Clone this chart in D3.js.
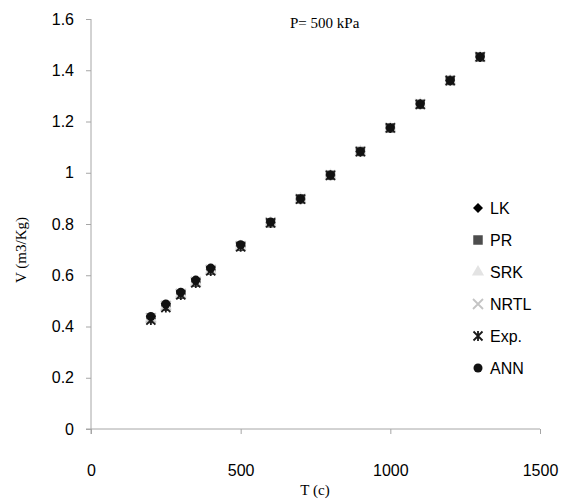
<!DOCTYPE html>
<html lang="en">
<head>
<meta charset="UTF-8">
<title>V vs T, P = 500 kPa</title>
<script src="https://d3js.org/d3.v7.min.js"></script>
<style>
  body { margin: 0; background: #fff; }
  text { fill: #000; }
</style>
</head>
<body>
<div id="chart"></div>
<script>
// temperatures (C)
const temps = [200, 250, 300, 350, 400, 500, 600, 700, 800, 900, 1000, 1100, 1200, 1300];
// specific volume (m3/kg) per method
const lk   = [0.432, 0.480, 0.527, 0.574, 0.621, 0.714, 0.806, 0.898, 0.991, 1.083, 1.175, 1.268, 1.360, 1.452];
const pr   = [0.431, 0.479, 0.526, 0.573, 0.620, 0.713, 0.805, 0.898, 0.990, 1.083, 1.175, 1.267, 1.360, 1.452];
const srk  = [0.432, 0.480, 0.527, 0.574, 0.620, 0.713, 0.805, 0.898, 0.990, 1.083, 1.175, 1.268, 1.360, 1.452];
const nrtl = [0.433, 0.480, 0.527, 0.574, 0.621, 0.714, 0.806, 0.898, 0.991, 1.083, 1.175, 1.268, 1.360, 1.452];
const exp  = [0.425, 0.474, 0.523, 0.570, 0.617, 0.711, 0.804, 0.897, 0.990, 1.082, 1.175, 1.267, 1.360, 1.452];
const ann  = [0.439, 0.488, 0.534, 0.581, 0.628, 0.719, 0.808, 0.898, 0.991, 1.083, 1.175, 1.268, 1.360, 1.452];

const seriesNames = ["LK", "PR", "SRK", "NRTL", "Exp.", "ANN"];
const xTicks = [0, 500, 1000, 1500];
const yTicks = [0, 0.2, 0.4, 0.6, 0.8, 1, 1.2, 1.4, 1.6];

const width = 582, height = 503;
const svg = d3.select("#chart").append("svg")
    .attr("width", width)
    .attr("height", height);

const x = d3.scaleLinear().domain([0, 1500]).range([91, 540]);
const y = d3.scaleLinear().domain([0, 1.6]).range([429, 19]);

const axisColor = "#a6a6a6";

// axes
const xAxis = svg.append("g")
    .attr("transform", `translate(0,${y(0)})`)
    .call(d3.axisBottom(x).tickValues(xTicks).tickSize(5).tickPadding(31).tickFormat(d3.format("d")));
const yAxis = svg.append("g")
    .attr("transform", `translate(${x(0)},0)`)
    .call(d3.axisLeft(y).tickValues(yTicks).tickSize(5).tickPadding(12).tickFormat(d3.format("~g")));

[xAxis, yAxis].forEach(g => {
    g.select(".domain").attr("stroke", axisColor).attr("stroke-width", 1);
    g.selectAll(".tick line").attr("stroke", axisColor);
    g.selectAll(".tick text")
        .attr("fill", "#000")
        .style("font-family", "'Liberation Sans', Arial, sans-serif")
        .style("font-size", "16px");
});
yAxis.select(".domain").attr("d", `M0,${y(1.6)}V${y(0) + 5}`);
xAxis.select(".domain").attr("d", `M${x(0) - 5},0H${x(1500)}`);

// markers
const sym = {
    "LK":   { path: d3.symbol().type(d3.symbolDiamond2).size(64)(), fill: "#000", stroke: "none" },
    "PR":   { path: d3.symbol().type(d3.symbolSquare).size(90)(), fill: "#4d4d4d", stroke: "none" },
    "SRK":  { path: d3.symbol().type(d3.symbolTriangle).size(64)(), fill: "#e3e3e3", stroke: "none" },
    "NRTL": { path: "M-5,-5L5,5M-5,5L5,-5", fill: "none", stroke: "#c4c4c4" },
    "Exp.": { path: "M-4.5,-4.5L4.5,4.5M-4.5,4.5L4.5,-4.5M0,-5V5", fill: "none", stroke: "#1a1a1a" },
    "ANN":  { path: d3.symbol().type(d3.symbolCircle).size(64)(), fill: "#111", stroke: "none" }
};
const seriesVals = [lk, pr, srk, nrtl, exp, ann];

seriesNames.forEach((name, i) => {
    const s = sym[name];
    svg.append("g").selectAll("path")
        .data(temps.map((t, j) => [t, seriesVals[i][j]]))
        .join("path")
        .attr("d", s.path)
        .attr("transform", d => `translate(${x(d[0])},${y(d[1])})`)
        .attr("fill", s.fill)
        .attr("stroke", s.stroke)
        .attr("stroke-width", 1.8);
});

// legend
const legend = svg.append("g").attr("transform", "translate(478,208)");
seriesNames.forEach((name, i) => {
    const s = sym[name];
    const row = legend.append("g").attr("transform", `translate(0,${i * 32})`);
    row.append("path")
        .attr("d", s.path)
        .attr("fill", s.fill)
        .attr("stroke", s.stroke)
        .attr("stroke-width", 1.8);
    row.append("text")
        .attr("x", 12)
        .attr("y", 6)
        .style("font-family", "'Liberation Sans', Arial, sans-serif")
        .style("font-size", "16px")
        .text(name);
});

// titles
const serif = "'Liberation Serif', 'Times New Roman', serif";
svg.append("text")
    .attr("x", 290).attr("y", 28)
    .style("font-family", serif).style("font-size", "15px")
    .text("P= 500 kPa");
svg.append("text")
    .attr("x", 315).attr("y", 495)
    .attr("text-anchor", "middle")
    .style("font-family", serif).style("font-size", "15px")
    .text("T (c)");
svg.append("text")
    .attr("transform", "translate(26,250) rotate(-90)")
    .attr("text-anchor", "middle")
    .style("font-family", serif).style("font-size", "15px")
    .text("V (m3/Kg)");
</script>
</body>
</html>
